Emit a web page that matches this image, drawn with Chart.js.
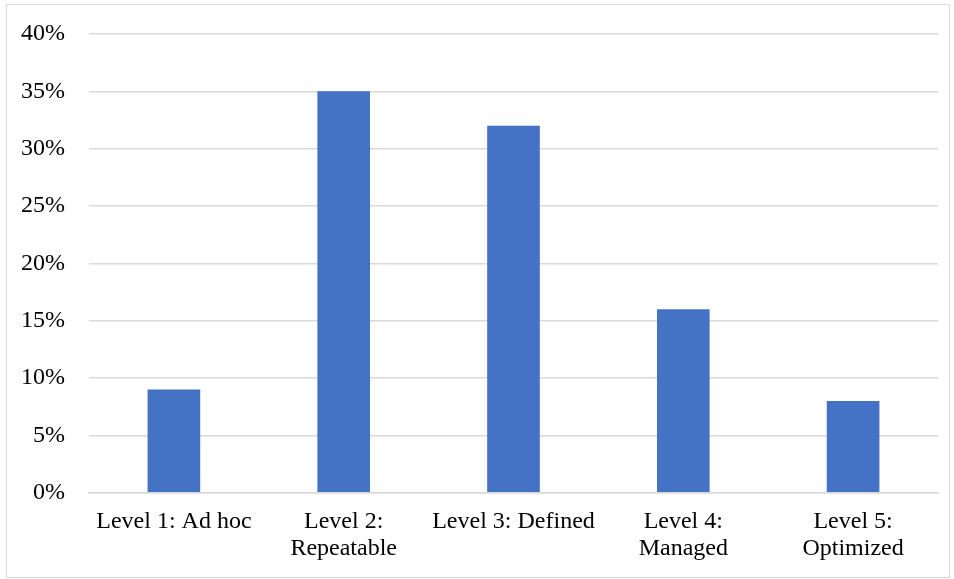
<!DOCTYPE html>
<html>
<head>
<meta charset="utf-8">
<script src="https://cdn.jsdelivr.net/npm/chart.js@4"></script>
<style>
  html, body { margin: 0; padding: 0; background: #fff; }
  #frame {
    position: absolute; left: 6px; top: 4px;
    width: 942px; height: 572px;
    border: 1px solid #d9d9d9; box-sizing: content-box;
  }
  canvas { display: block; }
</style>
</head>
<body>
<div id="frame"><canvas id="c" width="942" height="572"></canvas></div>
<script>
// Maturity levels and share of respondents at each level (%)
const categories = [
  ["Level 1: Ad hoc"],
  ["Level 2:", "Repeatable"],
  ["Level 3: Defined"],
  ["Level 4:", "Managed"],
  ["Level 5:", "Optimized"]
];
const shares = [9, 35, 32, 16, 8];
const yTicks = [0, 5, 10, 15, 20, 25, 30, 35, 40];

const FONT = "'Liberation Serif', 'Times New Roman', serif";

new Chart(document.getElementById('c'), {
  type: 'bar',
  data: {
    labels: categories,
    datasets: [{
      data: shares,
      backgroundColor: '#4472C4',
      borderWidth: 0,
      barPercentage: 0.31,
      categoryPercentage: 1.0
    }]
  },
  options: {
    responsive: false,
    animation: false,
    devicePixelRatio: 1,
    layout: { padding: { top: 29, right: 11, bottom: 0, left: 0 } },
    plugins: { legend: { display: false }, tooltip: { enabled: false } },
    scales: {
      x: {
        grid: { display: false, drawTicks: false },
        border: { display: true, color: '#d9d9d9', width: 1.5 },
        ticks: {
          color: '#000',
          font: { family: FONT, size: 24, lineHeight: 1.13 },
          padding: 15,
          maxRotation: 0,
          autoSkip: false
        }
      },
      y: {
        min: 0, max: 40,
        afterBuildTicks: (scale) => { scale.ticks = yTicks.map(v => ({ value: v })); },
        afterFit: (scale) => {
          scale.width = 82;
          scale.paddingTop = 0;
          scale.paddingBottom = 0;
        },
        grid: { color: '#d9d9d9', lineWidth: 1.5, drawTicks: false },
        border: { display: false },
        ticks: {
          color: '#000',
          font: { family: FONT, size: 24 },
          padding: 24,
          callback: (v) => v + '%'
        }
      }
    }
  }
});
</script>
</body>
</html>
